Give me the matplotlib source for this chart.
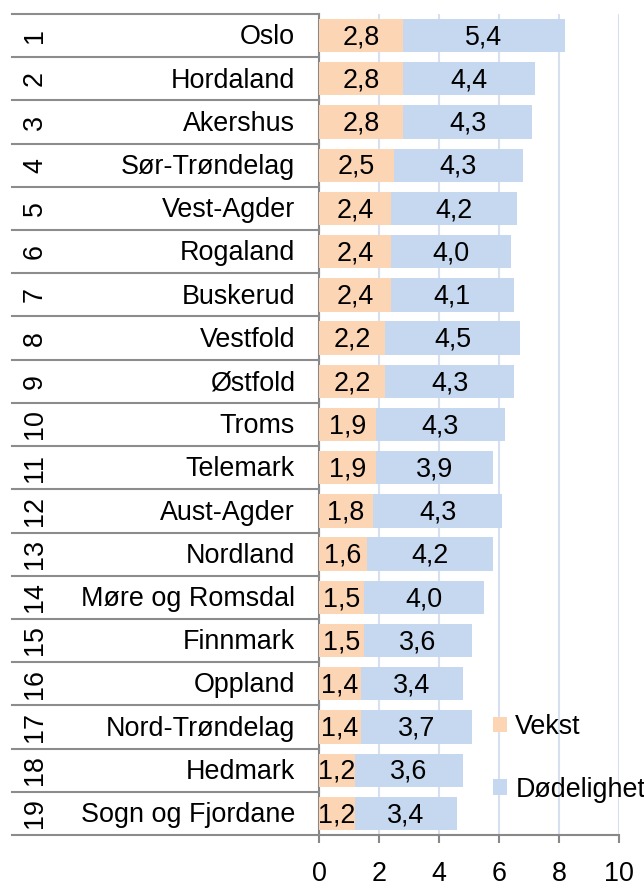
import matplotlib
matplotlib.use("Agg")
import matplotlib.pyplot as plt
import matplotlib.transforms as mtransforms
from matplotlib.patches import Patch

plt.rcParams['font.family'] = ['Liberation Sans', 'DejaVu Sans']

ranks = list(range(1, 20))
counties = ["Oslo", "Hordaland", "Akershus", "Sør-Trøndelag", "Vest-Agder", "Rogaland",
            "Buskerud", "Vestfold", "Østfold", "Troms", "Telemark", "Aust-Agder",
            "Nordland", "Møre og Romsdal", "Finnmark", "Oppland", "Nord-Trøndelag",
            "Hedmark", "Sogn og Fjordane"]
vekst = [2.8, 2.8, 2.8, 2.5, 2.4, 2.4, 2.4, 2.2, 2.2, 1.9, 1.9, 1.8, 1.6, 1.5, 1.5, 1.4, 1.4, 1.2, 1.2]
dodelighet = [5.4, 4.4, 4.3, 4.3, 4.2, 4.0, 4.1, 4.5, 4.3, 4.3, 3.9, 4.3, 4.2, 4.0, 3.6, 3.4, 3.7, 3.6, 3.4]
xticks = [0, 2, 4, 6, 8, 10]

W, H = 644, 886
fig = plt.figure(figsize=(W / 100, H / 100), dpi=100)
ax = fig.add_axes([319 / W, (H - 835) / H, 300 / W, (835 - 14) / H])

c_v = "#FCD5B5"
c_d = "#C6D8F0"
fs = 19.4
n = len(counties)
y = list(range(n))
bh = 0.77

ax.barh(y, vekst, height=bh, color=c_v, label="Vekst", zorder=3)
ax.barh(y, dodelighet, left=vekst, height=bh, color=c_d, label="Dødelighet", zorder=3)

for i in range(n):
    ax.text(vekst[i] / 2, i + 0.04, f"{vekst[i]:.1f}".replace(".", ","), ha="center",
            va="center", fontsize=fs, zorder=4)
    ax.text(vekst[i] + dodelighet[i] / 2, i + 0.04, f"{dodelighet[i]:.1f}".replace(".", ","),
            ha="center", va="center", fontsize=fs, zorder=4)

ax.set_xlim(0, 10)
ax.set_ylim(n - 0.5, -0.5)
ax.set_xticks(xticks)
ax.set_xticklabels([str(t) for t in xticks], fontsize=fs)
ax.set_yticks([])
ax.xaxis.grid(True, color="#D6E0F0", linewidth=1.5, zorder=0)
ax.set_axisbelow(True)
for s in ["top", "right"]:
    ax.spines[s].set_visible(False)
ax.spines["left"].set_color("#888888")
ax.spines["bottom"].set_color("#888888")
ax.spines["left"].set_linewidth(1.5)
ax.spines["bottom"].set_linewidth(1.5)
ax.tick_params(axis="x", direction="out", length=5.8, width=1.5, color="#888888", pad=13)

# left table
trans = mtransforms.blended_transform_factory(fig.transFigure, ax.transData)
x0, x1 = 12 / W, 319 / W
for b in range(n + 1):
    ax.plot([x0, x1], [b - 0.5, b - 0.5], transform=trans, color="#8C8C8C", lw=1.5,
            clip_on=False, zorder=5)
for i in range(n):
    ax.text(35 / W, i, str(ranks[i]), transform=trans, rotation=90, ha="center",
            va="center", fontsize=fs, rotation_mode="anchor")
    ax.text(295 / W, i + 0.04, counties[i], transform=trans, ha="right", va="center",
            fontsize=fs)

handles = [Patch(facecolor=c_v, label="Vekst"), Patch(facecolor=c_d, label="Dødelighet")]
fig.legend(handles=handles, loc="center left", bbox_to_anchor=(493 / W, 1 - 758.5 / H),
           frameon=False, fontsize=fs, handlelength=0.53, handleheight=0.53,
           handletextpad=0.3, labelspacing=1.37, borderaxespad=0, borderpad=0)

fig.savefig("out.png", dpi=100)
